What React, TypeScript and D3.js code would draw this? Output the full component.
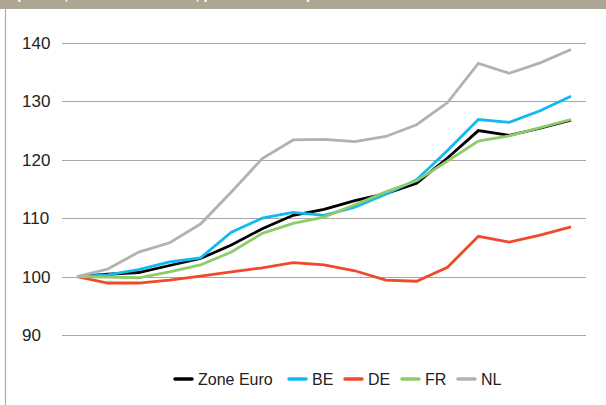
import React, { useRef, useEffect } from 'react';
import * as d3 from 'd3';

// 17 points, no x labels shown
const periods = d3.range(17).map(String);
const yTicks = [90, 100, 110, 120, 130, 140];

const zoneEuro = [100, 100.4, 100.7, 101.9, 103.1, 105.4, 108.2, 110.5, 111.5, 113, 114.2, 116, 120.3, 125, 124.2, 125.4, 126.8];
const be = [100, 100.3, 101.2, 102.5, 103.2, 107.6, 110, 111, 110.5, 111.9, 114.1, 116.6, 121.6, 126.9, 126.4, 128.4, 130.9];
const de = [100, 98.9, 98.9, 99.4, 100.1, 100.8, 101.5, 102.4, 102, 101, 99.4, 99.2, 101.6, 106.9, 105.9, 107.1, 108.5];
const fr = [100, 99.9, 99.8, 100.8, 102, 104.2, 107.4, 109.1, 110.2, 112.3, 114.5, 116.4, 119.8, 123.2, 124.1, 125.5, 126.9];
const nl = [100, 101.3, 104.2, 105.8, 109, 114.5, 120.2, 123.4, 123.5, 123.1, 124, 126, 129.8, 136.5, 134.8, 136.6, 138.9];

const series = [
  { name: 'Zone Euro', values: zoneEuro, color: '#000000' },
  { name: 'BE', values: be, color: '#12b9ef' },
  { name: 'DE', values: de, color: '#f0492b' },
  { name: 'FR', values: fr, color: '#8fcb6a' },
  { name: 'NL', values: nl, color: '#b2b2b2' },
];

export default function App() {
  const svgRef = useRef<SVGSVGElement>(null);

  useEffect(() => {
    const W = 606, H = 405;
    const svg = d3.select(svgRef.current).attr('width', W).attr('height', H);
    svg.selectAll('*').remove();

    // bandeau du haut (titre coupé)
    svg.append('rect').attr('x', 0).attr('y', 0).attr('width', W).attr('height', 9).attr('fill', '#ada595');
    svg.append('text')
      .attr('x', 16).attr('y', -1)
      .attr('fill', '#fff')
      .style('font-family', 'Liberation Sans, Arial, sans-serif')
      .style('font-size', '15px')
      .style('font-weight', 'bold')
      .text('(Indice, base 100 en 1999, prix constants)');
    // bord gauche
    svg.append('line').attr('x1', 5.5).attr('x2', 5.5).attr('y1', 9).attr('y2', H).attr('stroke', '#b5ad9f').attr('stroke-width', 1.2);

    const x = d3.scalePoint().domain(periods).range([77, 571]);
    const y = d3.scaleLinear().domain([90, 140]).range([335, 43]);

    // grille
    const grid = svg.append('g');
    grid.selectAll('line').data(yTicks).join('line')
      .attr('x1', 62).attr('x2', 586)
      .attr('y1', d => Math.round(y(d)) + 0.5).attr('y2', d => Math.round(y(d)) + 0.5)
      .attr('stroke', '#a6a6a6').attr('stroke-width', 1.2);
    grid.selectAll('text').data(yTicks).join('text')
      .attr('x', 22).attr('y', d => y(d) + 6)
      .attr('fill', '#222')
      .style('font-family', 'Liberation Sans, Arial, sans-serif')
      .style('font-size', '17px')
      .text(d => d);

    const line = d3.line<number>()
      .x((_, i) => x(periods[i]) as number)
      .y(d => y(d));

    svg.append('g').selectAll('path').data(series).join('path')
      .attr('d', d => line(d.values))
      .attr('fill', 'none')
      .attr('stroke', d => d.color)
      .attr('stroke-width', 2.8)
      .attr('stroke-linejoin', 'miter');

    // légende
    const legX = [175, 289, 345, 402, 458];
    const lg = svg.append('g');
    series.forEach((s, i) => {
      lg.append('line')
        .attr('x1', legX[i]).attr('x2', legX[i] + 17)
        .attr('y1', 379).attr('y2', 379)
        .attr('stroke', s.color).attr('stroke-width', 3.5).attr('stroke-linecap', 'round');
      lg.append('text')
        .attr('x', legX[i] + 23).attr('y', 384.5)
        .attr('fill', '#222')
        .style('font-family', 'Liberation Sans, Arial, sans-serif')
        .style('font-size', '16px')
        .text(s.name);
    });
  }, []);

  return (
    <div style={{ position: 'fixed', left: 0, top: 0, width: 606, height: 405, background: '#fff' }}>
      <svg ref={svgRef} style={{ display: 'block' }} />
    </div>
  );
}
